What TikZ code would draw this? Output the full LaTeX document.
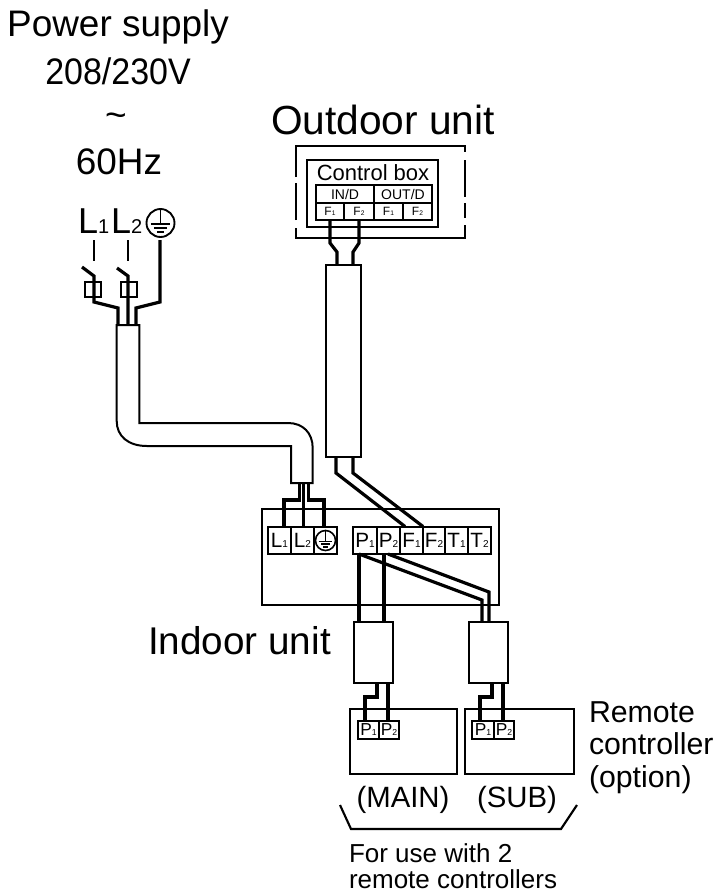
\documentclass[tikz,border=0pt]{standalone}
\usepackage{fontspec}
\setmainfont{Liberation Sans}
\usetikzlibrary{fit}
\newcommand{\tsub}[2]{{\fontsize{15.5}{16}\selectfont #1\fontsize{7.5}{8}\selectfont #2}}
\newcommand{\smsub}[2]{{\fontsize{9}{10}\selectfont #1\fontsize{5}{6}\selectfont #2}}
\newcommand{\midsub}[2]{{\fontsize{13}{14}\selectfont #1\fontsize{6.5}{7}\selectfont #2}}
\newcommand{\bigsub}[2]{#1{\fontsize{15}{16}\selectfont #2}}
\newcommand{\headtxt}[1]{{\fontsize{10.5}{11}\selectfont #1}}
\newcommand{\earthsym}[3]{% centre, radius in px, line width
  \begin{scope}[shift={#1},line width=#3,line cap=butt]
    \draw (0,0) circle (#2);
    \draw (0,-#2) -- (0,0.08*#2);
    \draw (-0.68*#2,0.08*#2) -- (0.68*#2,0.08*#2);
    \draw (-0.45*#2,0.36*#2) -- (0.45*#2,0.36*#2);
    \draw (-0.22*#2,0.64*#2) -- (0.22*#2,0.64*#2);
  \end{scope}}
\tikzset{
  x=0.75pt,y=-0.75pt,
  cell/.style={draw,line width=1.5pt,inner sep=0pt,outer sep=0pt,fill=white},
  term/.style={cell},
  termsm/.style={cell},
  headcell/.style={cell,line width=1.2pt},
  tinycell/.style={cell,line width=1.2pt},
  casing/.style={draw,line width=1.5pt,fill=white},
  thinwire/.style={line width=2.4pt,line join=miter},
  dashb/.style={line width=1.6pt},
  lab/.style={anchor=base,inner sep=0pt,outer sep=0pt},
  big/.style={lab,font=\fontsize{27.7}{30}\selectfont},
  mid/.style={lab,font=\fontsize{22}{24}\selectfont},
  side/.style={lab,anchor=base west,font=\fontsize{22.7}{24}\selectfont},
  small/.style={lab,font=\fontsize{19.5}{22}\selectfont},
}
\begin{document}
\begin{tikzpicture}
\useasboundingbox (0,0) rectangle (716,894);
% titles
\node[big] (t1) at (118,36) {Power supply};
\node[big,xscale=0.92,transform shape] (t2) at (118,84) {208/230V};
\node[big] (t3) at (116,127) {\char`\~};
\node[big] (t4) at (119,174) {60Hz};
\node[big,font=\fontsize{30.5}{32}\selectfont] (t5) at (383,134) {Outdoor unit};
\node[big,font=\fontsize{29}{32}\selectfont] (t6) at (239.5,654) {Indoor unit};
% supply labels
\node[big,anchor=base west,font=\fontsize{27}{30}\selectfont] (sL1) at (78,233) {\bigsub{L}{1}};
\node[big,anchor=base west,font=\fontsize{27}{30}\selectfont] (sL2) at (111,233) {\bigsub{L}{2}};
\earthsym{(160.5,223)}{14}{1.4pt}
\coordinate (sE) at (160,240);
% switches
\coordinate (a1) at (94,240); \coordinate (a2) at (128,240);
\draw[line width=2pt] (a1) -- (94,261);
\draw[line width=2pt] (a2) -- (128,261);
\draw[line width=1.5pt] (85,282) rectangle (101,297);
\draw[line width=1.5pt] (121,282) rectangle (137,297);
% power wires
\coordinate (c1) at (118,325); \coordinate (c2) at (128,325); \coordinate (c3) at (136,325);
\draw[thinwire] (82,267) -- (94,276) -- (94,302) -- (118,308) -- (c1);
\draw[thinwire] (117,268) -- (128,276) -- (c2);
\draw[thinwire] (sE) -- (160,302) -- (136,308) -- (c3);
% power cable
\path[casing] (116.7,325) -- (139.3,325) -- (139.3,423) -- (288,423)
   .. controls (303,423) and (312.7,433) .. (312.7,448) -- (312.7,483) -- (291,483) -- (291,446) -- (147,446)
   .. controls (128,446) and (116.7,436) .. (116.7,421) -- cycle;
% indoor unit
\node[cell,fit={(262,509)(499,605)}] (indoor) {};
% terminals
\node[term,fit={(268,526.5)(290.7,554)},label=center:{\tsub{L}{1}}] (tL1) {};
\node[term,fit={(290.7,526.5)(314,554)},label=center:{\tsub{L}{2}}] (tL2) {};
\node[term,fit={(314,526.5)(337,554)}] (tE) {};
\earthsym{(325.5,540.5)}{10}{1.2pt}
\node[term,fit={(353,526.5)(377,554)},label=center:{\tsub{P}{1}}] (tP1) {};
\node[term,fit={(377,526.5)(400,554)},label=center:{\tsub{P}{2}}] (tP2) {};
\node[term,fit={(400,526.5)(423,554)},label=center:{\tsub{F}{1}}] (tF1) {};
\node[term,fit={(423,526.5)(445,554)},label=center:{\tsub{F}{2}}] (tF2) {};
\node[term,fit={(445,526.5)(468,554)},label=center:{\tsub{T}{1}}] (tT1) {};
\node[term,fit={(468,526.5)(491,554)},label=center:{\tsub{T}{2}}] (tT2) {};
% cable to indoor terminals
\coordinate (d1) at (299.5,483); \coordinate (d2) at (303.7,483); \coordinate (d3) at (308.5,483);
\draw[thinwire] (d1) -- (299.5,500) -- (284,500) -- (284,526.5);
\draw[thinwire] (d2) -- (303.7,526.5);
\draw[thinwire] (d3) -- (308.5,500) -- (324,500) -- (324,526.5);
% outdoor unit
\draw[dashb] (296,177) -- (296,146) -- (465,146) -- (465,152);
\draw[dashb] (465,160) -- (465,197);
\draw[dashb] (465,203) -- (465,218);
\draw[dashb] (465,225) -- (465,238) -- (296,238) -- (296,228);
\draw[dashb] (296,220) -- (296,183);
\node[cell,fit={(307,160)(438,227)}] (cbox) {};
\node[lab,font=\fontsize{16.5}{18}\selectfont] (cbt) at (373,180) {Control box};
\node[headcell,fit={(316,185)(374,203)},label=center:{\headtxt{IN/D}}] (ind) {};
\node[headcell,fit={(374,185)(432,203)},label=center:{\headtxt{OUT/D}}] (outd) {};
\node[tinycell,fit={(316,203)(344,220)},label=center:{\smsub{F}{1}}] (oF1) {};
\node[tinycell,fit={(344,203)(374,220)},label=center:{\smsub{F}{2}}] (oF2) {};
\node[tinycell,fit={(374,203)(403,220)},label=center:{\smsub{F}{1}}] (oF3) {};
\node[tinycell,fit={(403,203)(432,220)},label=center:{\smsub{F}{2}}] (oF4) {};
% outdoor cable
\coordinate (e1) at (330,220); \coordinate (e2) at (359,220);
\draw[thinwire] (e1) -- (330,243) -- (337,252) -- (337,265);
\draw[thinwire] (e2) -- (359,243) -- (353,252) -- (353,265);
\draw[thinwire] (336,457) -- (336,473) -- (405,526.5);
\draw[thinwire] (353,457) -- (353,473) -- (tF1.north east);
\node[casing,inner sep=0pt,fit={(326,265)(361,457)}] (ocable) {};
% remote cables
\node[casing,inner sep=0pt,fit={(354,622)(393,683)}] (rc1) {};
\node[casing,inner sep=0pt,fit={(469,622)(508,683)}] (rc2) {};
\draw[thinwire] (359,554) -- (rc1.north -| 359,0);
\draw[thinwire] (384,554) -- (rc1.north -| 384,0);
\draw[thinwire] (359,554) -- (482,600) -- (rc2.north -| 482,0);
\draw[thinwire] (388,554) -- (489,592) -- (rc2.north -| 489,0);
% remote controllers
\node[cell,fit={(350,709)(457,774)}] (mainb) {};
\node[cell,fit={(465,709)(574,774)}] (subb) {};
\node[termsm,fit={(358,721)(379,739)},label=center:{\midsub{P}{1}}] (mP1) {};
\node[termsm,fit={(379,721)(399,739)},label=center:{\midsub{P}{2}}] (mP2) {};
\node[termsm,fit={(472,721)(494,739)},label=center:{\midsub{P}{1}}] (sP1) {};
\node[termsm,fit={(494,721)(514,739)},label=center:{\midsub{P}{2}}] (sP2) {};
\draw[thinwire] (rc1.south -| 377,0) -- (377,697) -- (365,697) -- (mP1.north -| 365,0);
\draw[thinwire] (rc1.south -| 388,0) -- (mP2.north -| 388,0);
\draw[thinwire] (rc2.south -| 492,0) -- (492,697) -- (480,697) -- (sP1.north -| 480,0);
\draw[thinwire] (rc2.south -| 503,0) -- (sP2.north -| 503,0);
% labels
\node[side] (r1) at (589,722) {Remote};
\node[side] (r2) at (589,754) {controller};
\node[side] (r3) at (589,787) {(option)};
\node[mid] (mn) at (403,807) {(MAIN)};
\node[mid] (sb) at (517,807) {(SUB)};
\node[small,anchor=base west] (f1) at (349,862) {For use with 2};
\node[small,anchor=base west] (f2) at (349,888) {remote controllers};
% bracket
\draw[line width=1.6pt] (340,805) -- (351,829) -- (561,829) -- (577,805);
\end{tikzpicture}
\end{document}
